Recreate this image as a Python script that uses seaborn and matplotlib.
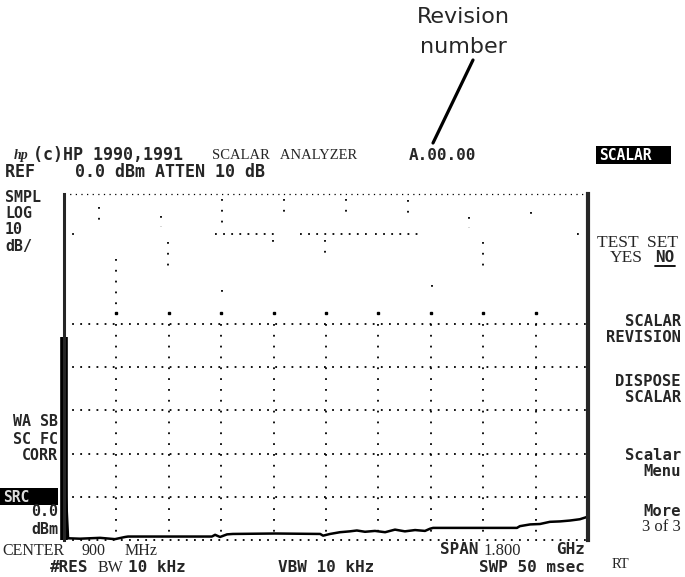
import numpy as np
import pandas as pd
import seaborn as sns
import matplotlib.pyplot as plt
from matplotlib.patches import Rectangle

# spectrum analyzer screen: 0 dBm ref, 10 dB/div, 8 divs, 0..1800 MHz
REF_DBM = 0.0
DB_PER_DIV = 10
N_YDIV = 8
START_MHZ = 0
STOP_MHZ = 1800
N_XDIV = 10

trace_mhz = [0, 7, 14, 55, 124, 175, 210, 220, 508, 519, 536, 560, 580, 725, 880,
             890, 914, 948, 982, 1006, 1034, 1068, 1103, 1137, 1171, 1206, 1240,
             1257, 1268, 1556, 1566, 1601, 1635, 1669, 1704, 1738, 1772, 1800]
trace_dbm = [-34.0, -70.0, -79.6, -79.7, -79.5, -79.8, -79.3, -79.2, -79.2, -78.8,
             -79.3, -78.7, -78.6, -78.5, -78.6, -79.0, -78.6, -78.2, -78.0, -77.8,
             -78.1, -77.9, -78.2, -77.6, -78.0, -77.7, -77.9, -77.4, -77.2, -77.2,
             -76.8, -76.4, -76.3, -75.8, -75.7, -75.5, -75.2, -74.6]

# leftover graticule fragments in the upper part of the screen (x div, top div, bottom div)
frag_v = [(0.67, 0.30, 0.76), (1.85, 0.51, 0.76), (3.02, 0.12, 0.76), (4.20, 0.12, 0.60),
          (5.38, 0.12, 0.60), (6.56, 0.14, 0.53), (7.73, 0.53, 0.79), (8.91, 0.42, 0.55),
          (0.99, 1.50, 2.91), (1.98, 1.11, 1.80), (3.99, 1.06, 1.29), (4.98, 1.06, 1.48),
          (8.00, 1.11, 1.73), (7.02, 2.10, 2.34), (3.02, 2.22, 2.36)]
frag_h = [(0.0, 0.3), (2.88, 4.03), (4.5, 5.78), (5.94, 6.76), (9.79, 9.9)]
frag_h_row = 0.92

W, H = 685, 577
sns.set_style("white")
plt.rcParams['font.family'] = ['DejaVu Sans']
MONO = 'DejaVu Sans Mono'
SERIF = 'Liberation Serif'

fig = plt.figure(figsize=(W / 100, H / 100), dpi=100)
x0, x1, y0, y1 = 64, 588, 194, 540
ax = fig.add_axes([x0 / W, 1 - y1 / H, (x1 - x0) / W, (y1 - y0) / H])

bottom = REF_DBM - DB_PER_DIV * N_YDIV
ax.set_xlim(START_MHZ, STOP_MHZ)
ax.set_ylim(bottom, REF_DBM)
xstep = (STOP_MHZ - START_MHZ) / N_XDIV


def xd(d):
    return START_MHZ + d * xstep


def yd(d):
    return REF_DBM - d * DB_PER_DIV


hdots = dict(color='black', lw=1.3, ls=(0, (1, 3.5)))
vdots = dict(color='black', lw=1.3, ls=(0, (1, 5)))

# top line
ax.axhline(REF_DBM, color='black', lw=0.9, ls=(0, (1, 3.5)), clip_on=False)
# lower full graticule
for d in range(3, N_YDIV + 1):
    ax.axhline(yd(d), clip_on=False, **hdots)
for d in range(1, N_XDIV):
    ax.plot([xd(d), xd(d)], [yd(3), bottom], **vdots)
    ax.plot([xd(d)], [yd(2.75)], marker='s', ms=1.5, color='black', ls='none')
# upper fragments
for d, a, b in frag_v:
    ax.plot([xd(d), xd(d)], [yd(a), yd(b)], **vdots)
for a, b in frag_h:
    ax.plot([xd(a), xd(b)], [yd(frag_h_row), yd(frag_h_row)], **hdots)

df = pd.DataFrame({"MHz": trace_mhz, "dBm": trace_dbm})
sns.lineplot(data=df, x="MHz", y="dBm", ax=ax, color='black', lw=1.8,
             estimator=None, sort=False, clip_on=False)

ax.set_xticks([])
ax.set_yticks([])
ax.set_xlabel("")
ax.set_ylabel("")
for s in ['top', 'bottom']:
    ax.spines[s].set_visible(False)
ax.spines['left'].set_linewidth(2.2)
ax.spines['right'].set_linewidth(3)
# thick lower part of the left edge
ax.plot([0, 0], [bottom, yd(3.3)], color='black', lw=5.5, solid_capstyle='butt', clip_on=False)


def t(x, y, s, size=12.3, fam=MONO, weight='bold', ha='left', **kw):
    fig.text(x / W, 1 - y / H, s, fontsize=size, family=fam, weight=weight,
             ha=ha, va='center', **kw)


def box(xa, ya, xb, yb):
    fig.add_artist(Rectangle((xa / W, 1 - yb / H), (xb - xa) / W, (yb - ya) / H,
                             transform=fig.transFigure, fc='black', ec='none'))


# callout
t(463, 17, "Revision", size=16, fam='DejaVu Sans', weight='normal', ha='center')
t(463, 47, "number", size=16, fam='DejaVu Sans', weight='normal', ha='center')
fig.add_artist(plt.Line2D([473 / W, 433 / W], [1 - 60 / H, 1 - 143 / H], color='black', lw=2.3))

# header
t(21, 155, "hp", size=10, fam=SERIF, weight='bold', ha='center', style='italic')
t(33, 155, "(c)HP 1990,1991", size=12)
t(212, 156, "SCALAR   ANALYZER", size=10.5, fam=SERIF, weight='normal')
t(409, 155, "A.00.00", size=11.5)
t(5, 172, "REF    0.0 dBm ATTEN 10 dB", size=12)

# left annotations
for y, s in [(197, "SMPL"), (213, "LOG"), (229, "10"), (246, "dB/")]:
    t(5, y, s, size=10.8)
for y, s in [(422, "WA SB"), (439, "SC FC"), (455, "CORR")]:
    t(58, y, s, size=10.8, ha='right')
box(0, 488, 58, 505)
t(3, 497, "SRC", size=10.5, color='#dddddd')
t(58, 512, "0.0", size=10.8, ha='right')
t(58, 529, "dBm", size=10.8, ha='right')

# bottom annotations
t(2, 551, "CENTER", size=11.5, fam=SERIF, weight='normal')
t(82, 551, "900", size=11.5, fam=SERIF, weight='normal')
t(125, 551, "MHz", size=11.5, fam=SERIF, weight='normal')
t(50, 568, "#RES", size=11.5)
t(98, 568, "BW", size=11.5, fam=SERIF, weight='normal')
t(128, 568, "10 kHz", size=11.5)
t(278, 568, "VBW 10 kHz", size=11.5)
t(440, 550, "SPAN", size=11.5)
t(483, 551, "1.800", size=12, fam=SERIF, weight='normal')
t(585, 550, "GHz", size=11.5, ha='right')
t(585, 568, "SWP 50 msec", size=11.5, ha='right')

# softkey menu
box(596, 146, 671, 164)
t(599, 155, "SCALAR", size=10.5, color='white')
t(597, 243, "TEST  SET", size=12.5, fam=SERIF, weight='normal')
t(610, 258, "YES", size=12.5, fam=SERIF, weight='normal')
t(655, 258, "NO", size=11.5)
fig.add_artist(plt.Line2D([655 / W, 675 / W], [1 - 266 / H, 1 - 266 / H], color='black', lw=1.3))
for y, s in [(321, "SCALAR"), (337, "REVISION"), (381, "DISPOSE"), (397, "SCALAR"),
             (455, "Scalar"), (471, "Menu"), (512, "More")]:
    t(681, y, s, size=11.2, ha='right')
t(681, 527, "3 of 3", size=12, fam=SERIF, weight='normal', ha='right')
t(612, 565, "RT", size=10.5, fam=SERIF, weight='normal')

fig.savefig("out.png", dpi=100)
